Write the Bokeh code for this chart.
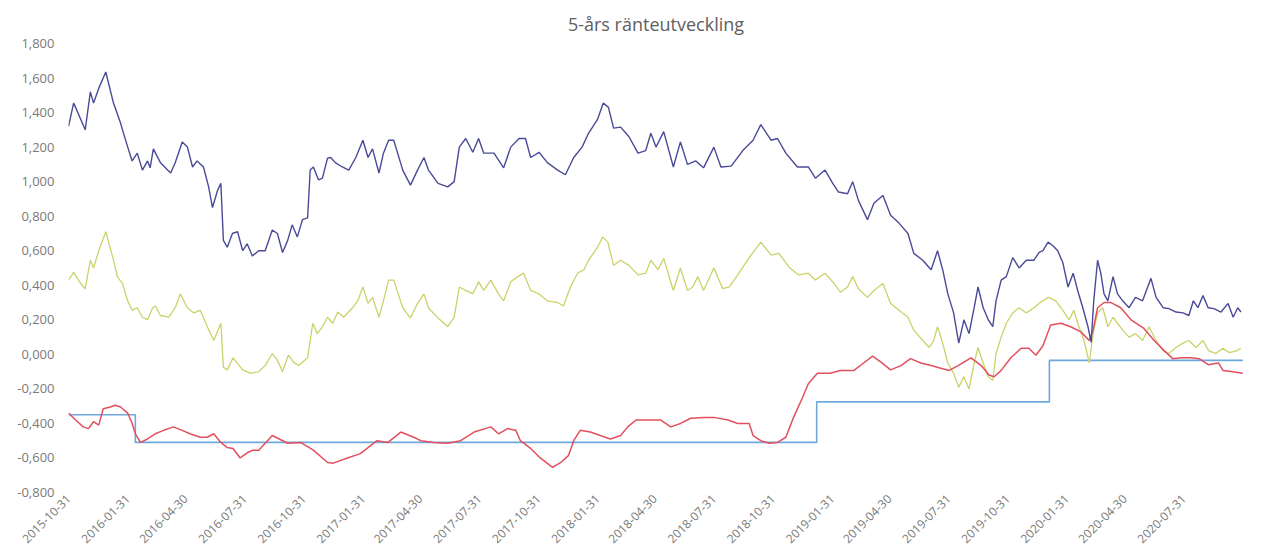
import pandas as pd
from math import pi
from bokeh.plotting import figure
from bokeh.models import FixedTicker, CustomJSTickFormatter, Range1d
from bokeh.embed import file_html
from bokeh.resources import INLINE

title_text = "5-års ränteutveckling"

y_ticks = [-0.8, -0.6, -0.4, -0.2, 0.0, 0.2, 0.4, 0.6, 0.8, 1.0, 1.2, 1.4, 1.6, 1.8]
x_tick_labels = ["2015-10-31", "2016-01-31", "2016-04-30", "2016-07-31", "2016-10-31",
                 "2017-01-31", "2017-04-30", "2017-07-31", "2017-10-31", "2018-01-31",
                 "2018-04-30", "2018-07-31", "2018-10-31", "2019-01-31", "2019-04-30",
                 "2019-07-31", "2019-10-31", "2020-01-31", "2020-04-30", "2020-07-31"]

blue_dates = ["2015-10-31", "2015-11-08", "2015-11-11", "2015-11-26", "2015-12-04", "2015-12-09",
              "2015-12-17", "2015-12-28", "2016-01-09", "2016-01-20", "2016-01-23", "2016-02-01",
              "2016-02-07", "2016-02-15", "2016-02-23", "2016-03-02", "2016-03-06", "2016-03-11",
              "2016-03-22", "2016-04-07", "2016-04-14", "2016-04-25", "2016-05-03", "2016-05-11",
              "2016-05-18", "2016-05-28", "2016-06-05", "2016-06-11", "2016-06-19", "2016-06-24",
              "2016-06-28", "2016-07-04", "2016-07-12", "2016-07-20", "2016-07-28", "2016-08-04",
              "2016-08-12", "2016-08-22", "2016-09-01", "2016-09-12", "2016-09-20", "2016-09-28",
              "2016-10-06", "2016-10-13", "2016-10-21", "2016-10-29", "2016-11-06", "2016-11-10",
              "2016-11-15", "2016-11-23", "2016-11-29", "2016-12-07", "2016-12-12", "2016-12-19",
              "2016-12-30", "2017-01-09", "2017-01-20", "2017-01-31", "2017-02-08", "2017-02-15",
              "2017-02-25", "2017-03-04", "2017-03-12", "2017-03-20", "2017-04-03", "2017-04-15",
              "2017-04-26", "2017-05-06", "2017-05-13", "2017-05-28", "2017-06-12", "2017-06-22",
              "2017-06-30", "2017-07-10", "2017-07-21", "2017-07-30", "2017-08-07", "2017-08-23",
              "2017-09-07", "2017-09-18", "2017-10-01", "2017-10-11", "2017-10-19", "2017-11-01",
              "2017-11-14", "2017-11-30", "2017-12-12", "2017-12-25", "2018-01-07", "2018-01-17",
              "2018-01-31", "2018-02-09", "2018-02-17", "2018-02-25", "2018-03-08", "2018-03-21",
              "2018-04-04", "2018-04-16", "2018-04-24", "2018-05-02", "2018-05-14", "2018-05-29",
              "2018-06-09", "2018-06-20", "2018-07-03", "2018-07-15", "2018-07-31", "2018-08-11",
              "2018-08-27", "2018-09-14", "2018-09-30", "2018-10-12", "2018-10-28", "2018-11-07",
              "2018-11-20", "2018-12-08", "2018-12-25", "2019-01-05", "2019-01-20", "2019-02-01",
              "2019-02-10", "2019-02-24", "2019-03-04", "2019-03-13", "2019-03-27", "2019-04-06",
              "2019-04-20", "2019-05-02", "2019-05-15", "2019-05-29", "2019-06-07", "2019-06-21",
              "2019-07-04", "2019-07-14", "2019-07-22", "2019-07-30", "2019-08-08", "2019-08-16",
              "2019-08-24", "2019-09-01", "2019-09-09", "2019-09-15", "2019-09-23", "2019-10-01",
              "2019-10-08", "2019-10-13", "2019-10-21", "2019-10-29", "2019-11-08", "2019-11-18",
              "2019-11-29", "2019-12-11", "2019-12-19", "2019-12-25", "2020-01-02", "2020-01-09",
              "2020-01-17", "2020-01-25", "2020-02-02", "2020-02-10", "2020-02-17", "2020-02-25",
              "2020-03-04", "2020-03-09", "2020-03-13", "2020-03-19", "2020-03-24", "2020-03-29",
              "2020-04-04", "2020-04-12", "2020-04-19", "2020-04-27", "2020-05-07", "2020-05-17",
              "2020-05-28", "2020-06-10", "2020-06-18", "2020-06-29", "2020-07-08", "2020-07-19",
              "2020-07-30", "2020-08-08", "2020-08-15", "2020-08-22", "2020-08-30", "2020-09-07",
              "2020-09-16", "2020-09-27", "2020-10-08", "2020-10-16", "2020-10-23", "2020-10-28"]
blue_vals = [1.32, 1.455, 1.43, 1.30, 1.52, 1.455,
             1.54, 1.635, 1.455, 1.34, 1.30, 1.19,
             1.12, 1.165, 1.067, 1.12, 1.08, 1.19,
             1.11, 1.05, 1.11, 1.23, 1.20, 1.085,
             1.12, 1.085, 0.97, 0.85, 0.95, 0.99,
             0.66, 0.62, 0.70, 0.71, 0.60, 0.64,
             0.57, 0.60, 0.60, 0.72, 0.70, 0.59,
             0.66, 0.75, 0.68, 0.78, 0.79, 1.067,
             1.085, 1.01, 1.02, 1.136, 1.14, 1.11,
             1.085, 1.067, 1.14, 1.24, 1.14, 1.19,
             1.05, 1.165, 1.24, 1.24, 1.067, 0.98,
             1.067, 1.14, 1.067, 0.99, 0.97, 1.00,
             1.20, 1.25, 1.17, 1.25, 1.165, 1.165,
             1.08, 1.20, 1.25, 1.25, 1.14, 1.17,
             1.11, 1.067, 1.04, 1.14, 1.20, 1.28,
             1.36, 1.455, 1.43, 1.31, 1.316, 1.26,
             1.165, 1.18, 1.28, 1.20, 1.29, 1.085,
             1.23, 1.10, 1.12, 1.08, 1.20, 1.085,
             1.09, 1.18, 1.24, 1.33, 1.24, 1.25,
             1.165, 1.085, 1.085, 1.02, 1.067, 0.99,
             0.94, 0.93, 1.00, 0.89, 0.78, 0.875,
             0.92, 0.805, 0.76, 0.70, 0.585, 0.545,
             0.49, 0.60, 0.49, 0.35, 0.24, 0.065,
             0.20, 0.12, 0.27, 0.39, 0.27, 0.20,
             0.16, 0.31, 0.43, 0.45, 0.56, 0.50,
             0.545, 0.545, 0.59, 0.60, 0.65, 0.63,
             0.60, 0.53, 0.39, 0.47, 0.37, 0.27,
             0.16, 0.07, 0.31, 0.545, 0.47, 0.35,
             0.31, 0.45, 0.35, 0.31, 0.27, 0.33,
             0.31, 0.44, 0.33, 0.27, 0.265, 0.245,
             0.24, 0.225, 0.31, 0.27, 0.34, 0.27,
             0.265, 0.245, 0.295, 0.215, 0.27, 0.245]

yellow_dates = ["2015-10-31", "2015-11-08", "2015-11-19", "2015-11-26", "2015-12-04", "2015-12-09",
                "2015-12-17", "2015-12-28", "2016-01-08", "2016-01-15", "2016-01-23", "2016-01-31",
                "2016-02-07", "2016-02-15", "2016-02-23", "2016-03-02", "2016-03-10", "2016-03-14",
                "2016-03-22", "2016-04-04", "2016-04-14", "2016-04-22", "2016-05-03", "2016-05-13",
                "2016-05-23", "2016-06-03", "2016-06-13", "2016-06-24", "2016-06-28", "2016-07-04",
                "2016-07-13", "2016-07-28", "2016-08-09", "2016-08-22", "2016-09-01", "2016-09-12",
                "2016-09-20", "2016-09-28", "2016-10-07", "2016-10-15", "2016-10-23", "2016-11-06",
                "2016-11-14", "2016-11-21", "2016-11-29", "2016-12-07", "2016-12-15", "2016-12-23",
                "2017-01-01", "2017-01-15", "2017-01-23", "2017-01-31", "2017-02-08", "2017-02-15",
                "2017-02-25", "2017-03-04", "2017-03-12", "2017-03-20", "2017-04-03", "2017-04-15",
                "2017-04-26", "2017-05-06", "2017-05-13", "2017-05-28", "2017-06-12", "2017-06-22",
                "2017-06-30", "2017-07-10", "2017-07-21", "2017-07-30", "2017-08-07", "2017-08-18",
                "2017-08-30", "2017-09-07", "2017-09-18", "2017-09-29", "2017-10-08", "2017-10-19",
                "2017-11-01", "2017-11-14", "2017-11-30", "2017-12-09", "2017-12-20", "2017-12-31",
                "2018-01-10", "2018-01-17", "2018-01-31", "2018-02-08", "2018-02-16", "2018-02-25",
                "2018-03-08", "2018-03-21", "2018-04-04", "2018-04-16", "2018-04-24", "2018-05-05",
                "2018-05-14", "2018-05-29", "2018-06-09", "2018-06-20", "2018-06-28", "2018-07-06",
                "2018-07-15", "2018-07-31", "2018-08-14", "2018-08-24", "2018-09-08", "2018-09-24",
                "2018-10-12", "2018-10-28", "2018-11-09", "2018-11-25", "2018-12-10", "2018-12-25",
                "2019-01-05", "2019-01-20", "2019-02-03", "2019-02-13", "2019-02-24", "2019-03-04",
                "2019-03-13", "2019-03-27", "2019-04-06", "2019-04-20", "2019-05-02", "2019-05-15",
                "2019-05-29", "2019-06-07", "2019-06-21", "2019-07-01", "2019-07-08", "2019-07-14",
                "2019-07-22", "2019-07-30", "2019-08-08", "2019-08-16", "2019-08-24", "2019-09-01",
                "2019-09-09", "2019-09-15", "2019-09-23", "2019-10-01", "2019-10-08", "2019-10-13",
                "2019-10-21", "2019-10-29", "2019-11-08", "2019-11-18", "2019-11-29", "2019-12-11",
                "2019-12-19", "2019-12-25", "2020-01-03", "2020-01-14", "2020-01-25", "2020-02-04",
                "2020-02-11", "2020-02-19", "2020-02-27", "2020-03-06", "2020-03-12", "2020-03-19",
                "2020-03-27", "2020-04-04", "2020-04-12", "2020-04-19", "2020-04-27", "2020-05-07",
                "2020-05-17", "2020-05-28", "2020-06-07", "2020-06-18", "2020-06-29", "2020-07-08",
                "2020-07-19", "2020-07-30", "2020-08-08", "2020-08-19", "2020-08-30", "2020-09-08",
                "2020-09-19", "2020-09-30", "2020-10-10", "2020-10-21", "2020-10-28"]
yellow_vals = [0.43, 0.475, 0.41, 0.38, 0.545, 0.50,
               0.60, 0.71, 0.56, 0.45, 0.41, 0.31,
               0.255, 0.27, 0.215, 0.20, 0.27, 0.28,
               0.225, 0.215, 0.27, 0.35, 0.27, 0.24,
               0.255, 0.16, 0.08, 0.18, -0.075, -0.09,
               -0.02, -0.09, -0.11, -0.10, -0.065, 0.005,
               -0.035, -0.10, -0.005, -0.045, -0.065, -0.02,
               0.18, 0.12, 0.16, 0.215, 0.18, 0.245,
               0.215, 0.27, 0.31, 0.39, 0.295, 0.33,
               0.215, 0.31, 0.43, 0.43, 0.27, 0.21,
               0.295, 0.35, 0.27, 0.21, 0.16, 0.215,
               0.39, 0.37, 0.35, 0.42, 0.37, 0.43,
               0.35, 0.31, 0.42, 0.45, 0.47, 0.37,
               0.35, 0.31, 0.30, 0.28, 0.39, 0.47,
               0.49, 0.545, 0.62, 0.68, 0.65, 0.515,
               0.545, 0.515, 0.46, 0.47, 0.545, 0.49,
               0.555, 0.37, 0.50, 0.37, 0.39, 0.45,
               0.37, 0.50, 0.38, 0.39, 0.47, 0.56,
               0.65, 0.575, 0.585, 0.505, 0.46, 0.47,
               0.43, 0.47, 0.41, 0.36, 0.39, 0.45,
               0.38, 0.33, 0.37, 0.41, 0.295, 0.255,
               0.215, 0.14, 0.08, 0.04, 0.08, 0.16,
               0.065, -0.05, -0.11, -0.19, -0.13, -0.20,
               -0.05, 0.04, -0.05, -0.13, -0.15, 0.005,
               0.10, 0.18, 0.24, 0.27, 0.24, 0.27,
               0.295, 0.31, 0.33, 0.31, 0.255, 0.20,
               0.255, 0.16, 0.08, -0.05, 0.12, 0.24,
               0.27, 0.16, 0.215, 0.18, 0.14, 0.10,
               0.12, 0.08, 0.16, 0.08, 0.02, 0.005,
               0.04, 0.065, 0.08, 0.04, 0.08, 0.02,
               0.005, 0.035, 0.01, 0.02, 0.035]

red_dates = ["2015-10-31", "2015-11-11", "2015-11-23", "2015-12-01", "2015-12-09", "2015-12-17",
             "2015-12-24", "2016-01-04", "2016-01-12", "2016-01-20", "2016-01-31", "2016-02-07",
             "2016-02-12", "2016-02-20", "2016-03-02", "2016-03-14", "2016-03-27", "2016-04-11",
             "2016-04-25", "2016-05-07", "2016-05-23", "2016-06-03", "2016-06-13", "2016-06-24",
             "2016-07-04", "2016-07-13", "2016-07-24", "2016-08-04", "2016-08-13", "2016-08-22",
             "2016-09-12", "2016-10-06", "2016-10-26", "2016-11-15", "2016-12-07", "2016-12-16",
             "2017-01-07", "2017-01-27", "2017-02-22", "2017-03-11", "2017-03-31", "2017-04-20",
             "2017-05-01", "2017-05-21", "2017-06-12", "2017-07-02", "2017-07-23", "2017-08-18",
             "2017-08-30", "2017-09-13", "2017-09-26", "2017-10-03", "2017-10-19", "2017-11-03",
             "2017-11-22", "2017-12-05", "2017-12-17", "2017-12-25", "2018-01-04", "2018-01-20",
             "2018-02-04", "2018-02-20", "2018-03-08", "2018-03-19", "2018-04-01", "2018-04-19",
             "2018-05-09", "2018-05-25", "2018-06-09", "2018-06-25", "2018-07-15", "2018-07-31",
             "2018-08-22", "2018-09-06", "2018-09-24", "2018-09-30", "2018-10-12", "2018-10-25",
             "2018-11-07", "2018-11-20", "2018-12-02", "2018-12-16", "2018-12-25", "2019-01-08",
             "2019-01-28", "2019-02-13", "2019-03-06", "2019-03-21", "2019-04-04", "2019-04-17",
             "2019-05-02", "2019-05-18", "2019-06-02", "2019-06-18", "2019-07-04", "2019-07-19",
             "2019-08-01", "2019-08-15", "2019-09-04", "2019-09-20", "2019-10-02", "2019-10-10",
             "2019-10-21", "2019-11-05", "2019-11-21", "2019-12-03", "2019-12-14", "2019-12-25",
             "2020-01-06", "2020-01-22", "2020-02-06", "2020-02-22", "2020-03-06", "2020-03-12",
             "2020-03-19", "2020-03-29", "2020-04-09", "2020-04-24", "2020-05-10", "2020-05-30",
             "2020-06-15", "2020-07-01", "2020-07-14", "2020-07-27", "2020-08-11", "2020-08-24",
             "2020-09-07", "2020-09-23", "2020-09-30", "2020-10-13", "2020-10-31"]
red_vals = [-0.34, -0.38, -0.42, -0.43, -0.39, -0.41,
            -0.315, -0.305, -0.295, -0.305, -0.34, -0.40,
            -0.46, -0.51, -0.49, -0.46, -0.44, -0.42,
            -0.44, -0.46, -0.48, -0.48, -0.46, -0.51,
            -0.54, -0.545, -0.60, -0.57, -0.555, -0.555,
            -0.47, -0.515, -0.51, -0.555, -0.626, -0.63,
            -0.60, -0.575, -0.50, -0.51, -0.45, -0.48,
            -0.50, -0.51, -0.515, -0.50, -0.45, -0.42,
            -0.46, -0.43, -0.44, -0.50, -0.545, -0.60,
            -0.655, -0.626, -0.585, -0.50, -0.44, -0.45,
            -0.47, -0.49, -0.47, -0.42, -0.38, -0.38,
            -0.38, -0.42, -0.40, -0.37, -0.365, -0.365,
            -0.38, -0.40, -0.40, -0.47, -0.50, -0.515,
            -0.51, -0.48, -0.365, -0.25, -0.17, -0.11,
            -0.11, -0.093, -0.093, -0.05, -0.01, -0.045,
            -0.09, -0.065, -0.025, -0.05, -0.065, -0.08,
            -0.093, -0.065, -0.02, -0.065, -0.12, -0.13,
            -0.093, -0.02, 0.035, 0.035, -0.005, 0.05,
            0.17, 0.18, 0.16, 0.13, 0.08, 0.14,
            0.27, 0.30, 0.30, 0.27, 0.20, 0.15,
            0.08, 0.02, -0.025, -0.02, -0.02, -0.025,
            -0.06, -0.05, -0.093, -0.10, -0.11]

step_dates = ["2015-10-31", "2016-02-12", "2019-01-07", "2020-01-04", "2020-10-31"]
step_vals = [-0.35, -0.51, -0.275, -0.035, -0.035]


def to_dt(lst):
    return pd.to_datetime(pd.Series(lst))


x_start = pd.Timestamp("2015-10-31")
x_end = pd.Timestamp("2020-11-01")

p = figure(width=1258, height=552, output_backend="svg", toolbar_location=None,
           x_axis_type="datetime",
           x_range=Range1d(x_start, x_end), y_range=Range1d(-0.8, 1.8),
           min_border_left=68, min_border_right=15, min_border_top=43, min_border_bottom=60)

p.title.text = title_text
p.title.align = "center"
p.title.vertical_align = "top"
p.title.text_font = "Open Sans"
p.title.text_font_size = "18px"
p.title.text_font_style = "normal"
p.title.text_color = "#606060"
p.title.standoff = 12

p.outline_line_color = None
p.xgrid.visible = False
p.ygrid.visible = False
p.background_fill_color = "white"
p.border_fill_color = "white"

p.step(to_dt(step_dates), step_vals, mode="after", line_color="#6fa8dc", line_width=1.6)
p.line(to_dt(yellow_dates), yellow_vals, line_color="#cbd26a", line_width=1.3)
p.line(to_dt(red_dates), red_vals, line_color="#e2505e", line_width=1.5)
p.line(to_dt(blue_dates), blue_vals, line_color="#4a4a98", line_width=1.4)

p.yaxis.ticker = FixedTicker(ticks=y_ticks)
p.yaxis.formatter = CustomJSTickFormatter(code="return tick.toFixed(3).replace('.', ',');")
p.xaxis.ticker = FixedTicker(ticks=[pd.Timestamp(s).value / 1e6 for s in x_tick_labels])
p.xaxis.formatter = CustomJSTickFormatter(code="return new Date(tick).toISOString().slice(0, 10);")
p.xaxis.major_label_orientation = pi / 4

for ax in (p.xaxis, p.yaxis):
    ax.axis_line_color = None
    ax.major_tick_line_color = None
    ax.minor_tick_line_color = None
    ax.major_tick_out = 0
    ax.major_tick_in = 0
    ax.major_label_text_color = "#7a7a7a"
    ax.major_label_text_font = "Open Sans"

p.yaxis.major_label_text_font_size = "13px"
p.yaxis.major_label_standoff = 14
p.xaxis.major_label_text_font_size = "12px"
p.xaxis.major_label_standoff = 4

open("out.html", "w").write(file_html(p, INLINE))
